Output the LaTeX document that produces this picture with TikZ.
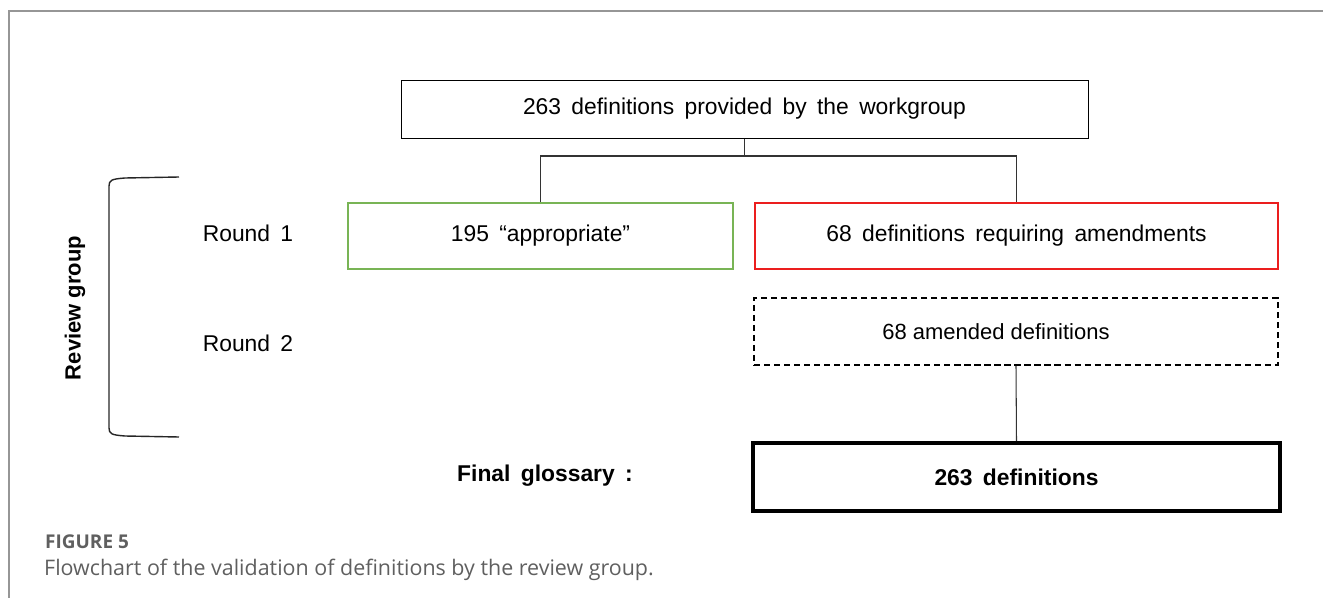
\documentclass[tikz,border=0pt]{standalone}
\usepackage{fontspec}
\setmainfont{Liberation Sans}
\newfontfamily\capfont{Open Sans}
\usepackage{xcolor}
\usepackage{tikz}
\definecolor{okgreen}{RGB}{120,180,85}
\definecolor{amendred}{RGB}{235,30,30}
\definecolor{framegrey}{RGB}{150,150,150}
\definecolor{capgrey}{RGB}{95,95,95}
\newcommand{\boxfont}{\fontsize{13}{15}\selectfont\spaceskip=5.9pt plus 1pt minus 1pt\relax}
\tikzstyle{box}=[fill=white, draw=black, shape=rectangle, inner sep=0pt, font=\boxfont]
\tikzstyle{green box}=[box, draw=okgreen, line width=0.9pt]
\tikzstyle{red box}=[box, draw=amendred, line width=0.9pt]
\tikzstyle{dashed box}=[box, dashed, dash pattern=on 3.5pt off 2.2pt, line width=0.7pt]
\tikzstyle{final box}=[box, line width=2.2pt, font=\boxfont\bfseries]
\tikzstyle{label}=[font=\boxfont]
\tikzstyle{plain edge}=[-, draw=black!80, line width=0.6pt]
\pgfdeclarelayer{nodelayer}
\pgfdeclarelayer{edgelayer}
\pgfsetlayers{edgelayer,nodelayer,main}
\begin{document}
\begin{tikzpicture}[x=0.02cm, y=-0.02cm]
	\useasboundingbox (0,0) rectangle (1323,598);
	\draw [framegrey, line width=0.8pt] (9,598) -- (9,11) -- (1323,11);
	\begin{pgfonlayer}{nodelayer}
		\node [style=box, minimum width=13.74cm, minimum height=1.16cm] (0) at (744.5,109) {263 definitions provided by the workgroup};
		\node [style=green box, minimum width=7.7cm, minimum height=1.32cm] (1) at (540.5,236) {195 “appropriate”};
		\node [style=red box, minimum width=10.46cm, minimum height=1.32cm] (2) at (1016.5,236) {68 definitions requiring amendments};
		\node [style=dashed box, minimum width=10.48cm, minimum height=1.34cm, font=\fontsize{12.5}{15}\selectfont] (3) at (1016,331.5) {68 amended definitions\hspace*{0.8cm}};
		\node [style=final box, minimum width=10.54cm, minimum height=1.36cm] (4) at (1016.5,477) {263 definitions};
		\node [style=label] (5) at (248,233) {Round 1};
		\node [style=label] (6) at (248,343) {Round 2};
		\node [style=label, font=\boxfont\bfseries] (7) at (545,476) {Final glossary :};
		\node [style=label, font=\fontsize{12.5}{15}\selectfont\bfseries, rotate=90] (8) at (75,308) {Review group};
		\coordinate (9) at (744.5,156);
	\end{pgfonlayer}
	\begin{pgfonlayer}{edgelayer}
		\draw [style=plain edge] (0.south) -- (9);
		\draw [style=plain edge] (1.north) |- (9) -| (2.north);
		\draw [style=plain edge] (3.south) -- (4.north);
	\end{pgfonlayer}
	% bracket of the review group
	\draw [black!85, line width=0.8pt] (179,177) -- (125,178) .. controls (112,179) and (109,180) .. (109,186) -- (109,428) .. controls (109,434) and (112,435) .. (125,436) -- (179,437);
	% caption
	\node [anchor=west, text=capgrey, font=\capfont\fontsize{10.8}{12}\selectfont\bfseries] (10) at (39,542) {FIGURE 5};
	\node [anchor=west, text=capgrey, font=\capfont\fontsize{12.2}{14}\selectfont] (11) at (38,570) {Flowchart of the validation of definitions by the review group.};
\end{tikzpicture}
\end{document}
